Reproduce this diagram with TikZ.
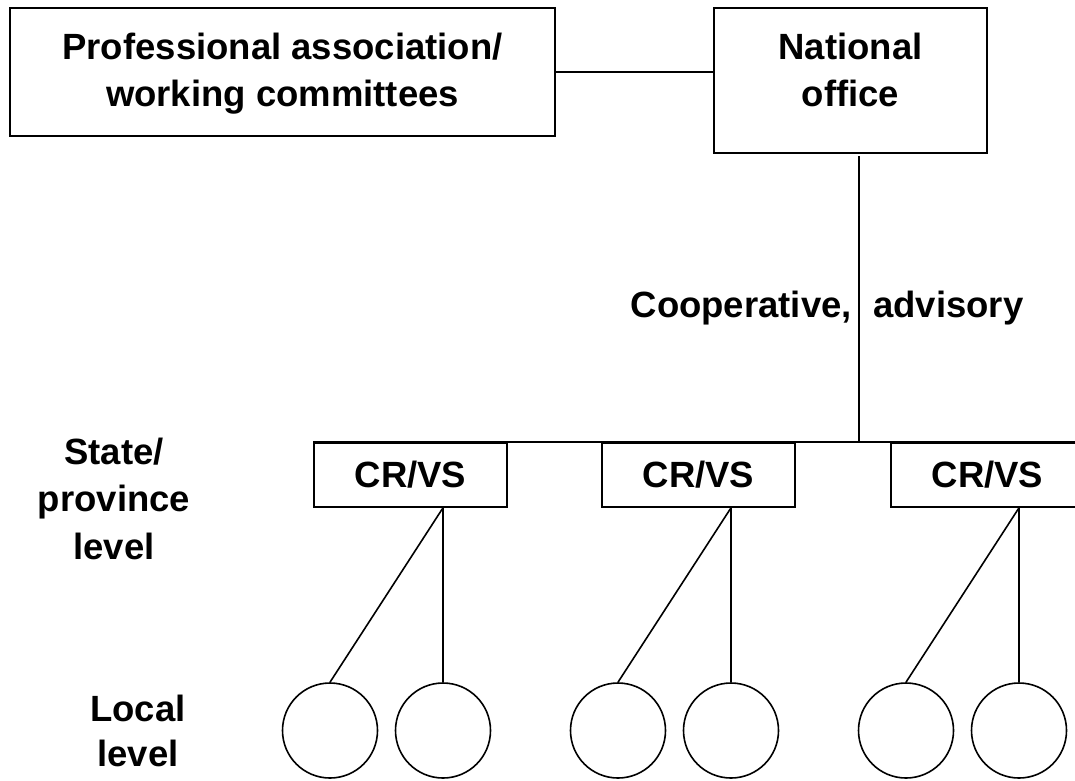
\documentclass[tikz,border=0pt]{standalone}
\usepackage{fontspec}
\setmainfont{Liberation Sans}
\begin{document}
\begin{tikzpicture}[x=1pt,y=-1pt,
  bigbox/.style={draw, line width=2.2pt, inner sep=0pt},
  crbox/.style={draw, line width=1.6pt, inner sep=0pt, minimum width=193pt, minimum height=64pt,
    font=\fontsize{36.5}{46}\selectfont\bfseries},
  local/.style={draw, circle, line width=1.6pt, inner sep=0pt, minimum size=95pt},
  txt/.style={inner sep=0pt, align=center, font=\fontsize{36.5}{47}\selectfont\bfseries},
  conn/.style={line width=1.6pt}]
\useasboundingbox (0,0) rectangle (1075,780);
% top boxes
\node[bigbox, minimum width=545pt, minimum height=128pt] (pa) at (282.5,72) {};
\node[bigbox, minimum width=273pt, minimum height=145pt] (nat) at (850.5,80.5) {};
\node[txt, anchor=base] (pat) at (282.5,106) {Professional association/\\working committees};
\node[txt, anchor=base] (natt) at (850.5,106) {National\\office};
\draw[conn] (pa.east) -- (pa.east -| nat.west);
% vertical connector
\coordinate (j) at (859,443);
\draw[conn, shorten <=2pt] (nat.south -| j) -- (j);
\node[txt, anchor=base east] (coop) at (852,317) {Cooperative,};
\node[txt, anchor=base west] (adv) at (873,317) {advisory};
% CR/VS boxes
\node[crbox] (b1) at (410.5,475) {CR/VS};
\node[crbox] (b2) at (698.5,475) {CR/VS};
\node[crbox] (b3) at (987.5,475) {CR/VS};
\draw[conn] (b1.north west) -- (b3.north east);
% circles
\node[local] (c1) at (330,730.5) {};
\node[local] (c2) at (443,730.5) {};
\node[local] (c3) at (618,730.5) {};
\node[local] (c4) at (731,730.5) {};
\node[local] (c5) at (906,730.5) {};
\node[local] (c6) at (1019,730.5) {};
\draw[conn] (b1.south -| c2.north) -- (c1.north);
\draw[conn] (b1.south -| c2.north) -- (c2.north);
\draw[conn] (b2.south -| c4.north) -- (c3.north);
\draw[conn] (b2.south -| c4.north) -- (c4.north);
\draw[conn] (b3.south -| c6.north) -- (c5.north);
\draw[conn] (b3.south -| c6.north) -- (c6.north);
% level labels
\node[txt, anchor=base, font=\fontsize{36.5}{47.5}\selectfont\bfseries] (state) at (114,559) {State/\\province\\level};
\node[txt, anchor=base, font=\fontsize{36.5}{45}\selectfont\bfseries] (loc) at (138,766) {Local\\level};
\end{tikzpicture}
\end{document}
